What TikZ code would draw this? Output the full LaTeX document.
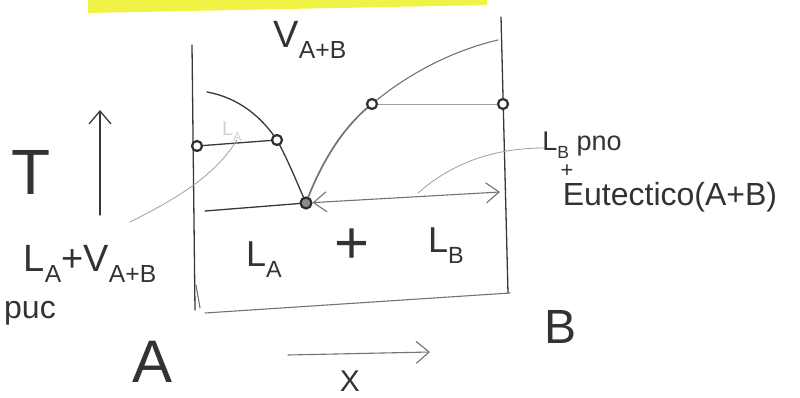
\documentclass[tikz,border=0pt]{standalone}
\usepackage{fontspec}
\setmainfont{Liberation Sans}
\usetikzlibrary{arrows.meta}
\newcommand\subt[1]{\raisebox{-0.3em}{\scalebox{0.65}{#1}}}
\begin{document}
\begin{tikzpicture}[x=1pt,y=-1pt,
 pencil/.style={draw=black!78, line width=1.3pt, line cap=round, line join=round},
 soft/.style={draw=black!55, line width=1.1pt, line cap=round},
 faint/.style={draw=black!38, line width=0.8pt, line cap=round},
 pt/.style={circle, draw=black!82, fill=white, line width=2.2pt, minimum size=10pt, inner sep=0pt},
 hand/.style={text=black!80, inner sep=0pt},
 barb/.style={-{Straight Barb[length=13pt,width=22pt]}},
 dbarb/.style={{Straight Barb[length=13pt,width=20pt]}-{Straight Barb[length=13pt,width=20pt]}}
]
\useasboundingbox (0,0) rectangle (800,398);
\clip (0,0) rectangle (800,398);
% highlighter bar
\fill[fill={rgb,255:red,240;green,242;blue,70}] (88,0) -- (487,0) -- (487,5) -- (88,13) -- cycle;
% frame
\coordinate (LT) at (192,45); \coordinate (LBo) at (195,310);
\coordinate (RT) at (501,17); \coordinate (RBo) at (508,293);
\coordinate (BL) at (205,313); \coordinate (BR) at (510,293);
\draw[pencil] (LT) -- (LBo);
\draw[pencil] (RT) -- (RBo);
\draw[soft] (BL) -- (BR);
\coordinate (m1) at (196,285); \coordinate (m2) at (200,308);
\draw[soft] (m1) -- (m2);
% curves (drawn before points)
\coordinate (ls) at (207,92);
\coordinate (rs) at (498,40);
\coordinate (p2c) at (277,140);
\coordinate (ec) at (306,203);
\coordinate (p3c) at (372,104);
\draw[pencil] (ls) .. controls (240,98) and (262,118) .. (p2c);
\draw[pencil] (p2c) .. controls (288,160) and (298,185) .. (ec);
\draw[soft, line width=1.7pt] (ec) .. controls (322,160) and (345,125) .. (p3c);
\draw[soft] (p3c) .. controls (410,72) and (455,50) .. (rs);
% points
\node[pt] (p1) at (197,146) {};
\node[pt] (p2) at (p2c) {};
\node[pt, minimum size=11pt, fill=black!45] (e) at (ec) {};
\node[pt] (p3) at (p3c) {};
\node[pt] (p4) at (503,104) {};
% tie lines
\draw[pencil] (p1) -- (p2);
\draw[faint] (p3) -- (p4);
% eutectic line
\coordinate (el) at (205,211);
\coordinate (er) at (500,192);
\draw[pencil] (el) -- (e);
\draw[soft, dbarb] (e) -- (er);
% leaders
\coordinate (la1) at (130,222); \coordinate (la2) at (237,140);
\draw[faint] (la1) .. controls (180,197) and (215,175) .. (la2);
\coordinate (lb1) at (418,193); \coordinate (lb2) at (545,148);
\draw[faint] (lb1) .. controls (450,165) and (490,148) .. (lb2);
% axes arrows
\coordinate (t0) at (100,215); \coordinate (t1) at (100,110);
\draw[pencil, barb] (t0) -- (t1);
\coordinate (x0) at (288,355); \coordinate (x1) at (430,352);
\draw[soft, barb] (x0) -- (x1);
% texts
\node[hand, font=\fontsize{38}{40}\selectfont] (vab) at (310,40) {V\subt{A+B}};
\node[hand, font=\fontsize{20}{22}\selectfont, text=black!18] (lafaint) at (232,132) {L\subt{A}};
\node[hand, font=\fontsize{64}{66}\selectfont] (T) at (31,172) {T};
\node[hand, font=\fontsize{38}{40}\selectfont] (lav) at (90,264) {L\subt{A}+V\subt{A+B}};
\node[hand, font=\fontsize{32}{34}\selectfont] (puc) at (30,313) {puc};
\node[hand, font=\fontsize{36}{38}\selectfont] (la) at (264,260) {L\subt{A}};
\node[hand, font=\fontsize{60}{62}\selectfont] (plus) at (352,246) {+};
\node[hand, font=\fontsize{36}{38}\selectfont] (lb) at (446,246) {L\subt{B}};
\node[hand, font=\fontsize{27}{29}\selectfont] (lbp) at (582,145) {L\subt{B} pno};
\node[hand, font=\fontsize{22}{24}\selectfont] (pl2) at (567,171) {+};
\node[hand, font=\fontsize{32}{34}\selectfont] (eut) at (670,197) {Eutectico(A+B)};
\node[hand, font=\fontsize{60}{62}\selectfont] (A) at (153,362) {A};
\node[hand, font=\fontsize{48}{50}\selectfont] (B) at (560,327) {B};
\node[hand, font=\fontsize{30}{32}\selectfont, anchor=base] (X) at (350,391) {X};
\end{tikzpicture}
\end{document}
